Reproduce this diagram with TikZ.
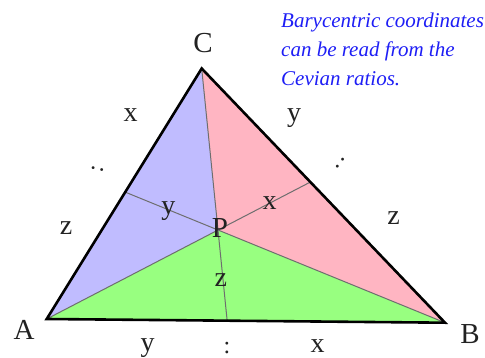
\documentclass[tikz,border=0pt]{standalone}
\usepackage{fontspec}
\setmainfont{Liberation Serif}
\definecolor{regblue}{RGB}{192,188,255}
\definecolor{regpink}{RGB}{255,181,194}
\definecolor{reggreen}{RGB}{152,255,128}
\definecolor{lbl}{RGB}{34,34,34}
\definecolor{note}{RGB}{30,30,245}
\definecolor{cevgray}{RGB}{110,110,110}
\begin{document}
\begin{tikzpicture}[x=1pt,y=-1pt,
  vlab/.style={inner sep=0,anchor=base,text=lbl,font=\fontsize{29}{29}\selectfont},
  slab/.style={inner sep=0,anchor=base,text=lbl,font=\fontsize{28}{28}\selectfont},
  colonlab/.style={inner sep=0,anchor=center,text=lbl,font=\fontsize{24}{24}\selectfont},
  cevian/.style={draw=cevgray,line width=1pt},
  edge/.style={draw=black,line width=2.6pt,line join=miter}]
\useasboundingbox (0,0) rectangle (485,358);
\coordinate (A) at (46.7,319);
\coordinate (B) at (445,322.7);
\coordinate (C) at (201.7,68.5);
\coordinate (P) at (218,230);
\coordinate (Fa) at (intersection of A--P and B--C);
\coordinate (Fb) at (intersection of B--P and A--C);
\coordinate (Fc) at (intersection of C--P and A--B);
% regions
\fill[regblue] (A)--(C)--(P)--cycle;
\fill[regpink] (C)--(B)--(P)--cycle;
\fill[reggreen] (A)--(B)--(P)--cycle;
% cevians
\draw[cevian] (C)--(Fc);
\draw[cevian] (A)--(Fa);
\draw[cevian] (B)--(Fb);
% triangle
\draw[edge] (A)--(B)--(C)--cycle;
% vertex labels
\node[vlab] (lC) at (203,53) {C};
\node[vlab] (lA) at (24,340) {A};
\node[vlab] (lB) at (470,343) {B};
\node[vlab] (lP) at (220,238) {P};
% side labels
\node[slab] (sx1) at (130.5,121.7) {x};
\node[slab] (sy1) at (294,122) {y};
\node[slab] (sz1) at (66,235) {z};
\node[slab] (sz2) at (393.7,225) {z};
\node[slab] (sy2) at (147.5,352) {y};
\node[slab] (sx2) at (317.5,352.5) {x};
\node[colonlab,anchor=base] (c3) at (227,353) {:};
\node[colonlab,rotate=77.5] (c1) at (97.5,169) {:};
\node[colonlab,rotate=-37] (c2) at (340.5,163) {:};
% inner labels
\node[slab] (iy) at (168.3,215) {y};
\node[slab] (ix) at (269.7,210) {x};
\node[slab] (iz) at (220.8,286.7) {z};
% note
\node[inner sep=0,anchor=north west,align=left,text=note,
  font=\fontsize{21}{29}\selectfont\itshape] (note) at (281,13)
  {Barycentric coordinates\\can be read from the\\Cevian ratios.};
\end{tikzpicture}
\end{document}
